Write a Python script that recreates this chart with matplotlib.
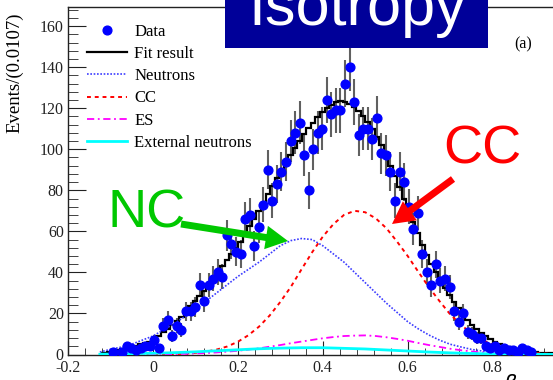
import numpy as np
import matplotlib
matplotlib.use("Agg")
import matplotlib.pyplot as plt
from matplotlib.patches import Rectangle, FancyArrowPatch, ArrowStyle
from matplotlib.lines import Line2D

# histogram binning (100 bins of 0.0107 starting at -0.12)
bin_lo = -0.12
bin_w = 0.0107

# data counts per bin
data_counts = [0, 0, 1, 0, 1, 4, 3, 2, 3, 4,
               4, 7, 3, 14, 17, 9, 14, 12, 21, 21,
               23, 34, 26, 34, 37, 40, 38, 58, 54, 50,
               49, 66, 68, 53, 62, 73, 90, 75, 83, 89,
               94, 104, 108, 113, 97, 80, 100, 108, 110, 124,
               117, 119, 119, 132, 140, 123, 107, 110, 110, 105,
               115, 98, 97, 89, 75, 89, 84, 72, 61, 69,
               49, 40, 34, 44, 36, 37, 33, 21, 16, 20,
               11, 10, 8, 8, 4, 3, 4, 2, 3, 2,
               2, 1, 3, 2, 1, 0, 0, 0, 0, 0]

# total fit per bin
fit_counts = [0.8, 1.2, 1.7, 2.1, 2.5, 3.0, 3.5, 4.3, 5.0, 5.8,
              6.3, 7.5, 9.2, 11, 12.5, 14.5, 16.3, 18.5, 20.8, 23.5,
              26, 28.5, 31, 34, 37, 40, 43, 46, 49, 52,
              55, 59, 62.5, 66, 70, 74, 78, 82, 86, 89.5,
              93, 97, 100.5, 104, 107.5, 110.5, 113, 115.5, 118, 120,
              121.5, 123, 123.5, 123, 122, 120.5, 118.5, 116, 113.5, 110,
              106, 102, 97, 92, 87, 81.5, 76, 70, 64.5, 59,
              53.5, 48.5, 44, 40, 36, 32.5, 29, 25.5, 22.5, 19.5,
              17, 14.5, 12.5, 10.5, 9, 7.5, 6.3, 5.2, 4.3, 3.5,
              2.9, 2.4, 1.9, 1.5, 1.2, 1.0, 0.8, 0.6, 0.5, 0.4]

# fit components sampled along beta14
comp_x = [-0.125, -0.1, -0.075, -0.05, -0.025, 0, 0.025, 0.05, 0.075, 0.1,
          0.125, 0.15, 0.175, 0.2, 0.225, 0.25, 0.275, 0.3, 0.325, 0.35,
          0.375, 0.4, 0.425, 0.45, 0.475, 0.5, 0.525, 0.55, 0.575, 0.6,
          0.625, 0.65, 0.675, 0.7, 0.725, 0.75, 0.775, 0.8, 0.825, 0.85,
          0.875, 0.9, 0.925, 0.95]
neutrons = [1.2, 2.5, 3.6, 5, 7, 9, 12, 15, 18.5, 22,
            26, 30, 34, 38, 41.5, 45, 49, 53, 55.5, 56.5,
            56, 53, 49, 45, 40, 35, 30, 25, 20.5, 16,
            12.5, 9.5, 7, 5, 3.7, 2.5, 1.7, 1, 0.7, 0.4,
            0.25, 0.1, 0.05, 0]
cc = [0, 0, 0, 0, 0, 0.05, 0.1, 0.2, 0.4, 0.8,
      1.4, 2.4, 3.9, 6.2, 9.4, 13.6, 19, 25.6, 33, 41.5,
      49.8, 57.4, 63.5, 68, 70, 69.3, 66.3, 61.5, 55, 48,
      40.3, 32.8, 26, 19.6, 14.6, 10.3, 7.2, 4.8, 3.1, 1.9,
      1.2, 0.7, 0.4, 0.2]
es = [0, 0, 0.05, 0.05, 0.1, 0.1, 0.15, 0.2, 0.35, 0.5,
      0.7, 1.0, 1.4, 1.8, 2.4, 3.0, 3.8, 4.6, 5.5, 6.3,
      7.1, 7.9, 8.5, 9.0, 9.2, 9.3, 9.0, 8.4, 7.6, 6.7,
      5.6, 4.6, 3.7, 2.8, 2.1, 1.5, 1.0, 0.7, 0.45, 0.3,
      0.2, 0.1, 0.05, 0]
ext_n = [0.15, 0.2, 0.3, 0.4, 0.5, 0.6, 0.75, 0.9, 1.1, 1.3,
         1.55, 1.8, 2.05, 2.3, 2.55, 2.8, 2.95, 3.1, 3.2, 3.3,
         3.3, 3.3, 3.15, 3.0, 2.85, 2.7, 2.45, 2.2, 1.95, 1.7,
         1.45, 1.2, 1.0, 0.8, 0.65, 0.5, 0.4, 0.3, 0.25, 0.2,
         0.15, 0.1, 0.05, 0.05]

W, H = 553, 380
serif = "Liberation Serif"
sans = "Liberation Sans"

fig = plt.figure(figsize=(W / 100, H / 100), dpi=100)
ax = fig.add_axes([68 / W, 1 - 354.5 / H, 509.5 / W, 347.5 / H])

counts = np.array(data_counts, dtype=float)
edges = bin_lo + bin_w * np.arange(len(counts) + 1)
centers = 0.5 * (edges[:-1] + edges[1:])
mask = counts > 0

ax.errorbar(centers[mask], counts[mask], yerr=np.sqrt(counts[mask]), fmt="none",
            ecolor="#606060", elinewidth=1.5, zorder=2)
ax.stairs(fit_counts, edges, color="black", lw=1.6, zorder=3)
ax.plot(comp_x, neutrons, color="#3c3cff", ls=(0, (1, 1)), lw=1.2, zorder=3)
ax.plot(comp_x, cc, color="red", ls=(0, (2, 2)), lw=1.4, zorder=3)
ax.plot(comp_x, es, color="magenta", ls=(0, (4, 2, 1, 2)), lw=1.3, zorder=3)
ax.plot(comp_x, ext_n, color="cyan", ls="-", lw=2, zorder=3)
ax.plot(centers[mask], counts[mask], "o", color="blue", ms=6.3, zorder=4)

ax.set_xlim(-0.2, 1.0)
ax.set_ylim(0, 169.3)
ax.set_xticks([-0.2, 0, 0.2, 0.4, 0.6, 0.8])
ax.set_xticklabels(["-0.2", "0", "0.2", "0.4", "0.6", "0.8"])
ax.set_yticks(range(0, 161, 20))
ax.xaxis.set_minor_locator(matplotlib.ticker.MultipleLocator(0.04))
ax.yaxis.set_minor_locator(matplotlib.ticker.MultipleLocator(4))
ax.tick_params(axis="both", which="both", direction="in", top=False, right=False,
               labelsize=11.5, colors="#222222")
ax.tick_params(axis="y", which="major", length=13, pad=3)
ax.tick_params(axis="y", which="minor", length=7)
ax.tick_params(axis="x", which="major", length=10, pad=4)
ax.tick_params(axis="x", which="minor", length=5)
for lab in ax.get_xticklabels() + ax.get_yticklabels():
    lab.set_fontfamily(serif)
for s in ax.spines.values():
    s.set_color("#222222")
    s.set_linewidth(1)

ax.set_ylabel("Events/(0.0107)", fontsize=13.5, family=serif, loc="top")
ax.yaxis.set_label_coords(-0.088, 0.985)

handles = [
    Line2D([], [], marker="o", color="blue", ls="none", ms=6.3),
    Line2D([], [], color="black", lw=1.6),
    Line2D([], [], color="#3c3cff", ls=(0, (1, 1)), lw=1.2),
    Line2D([], [], color="red", ls=(0, (2, 2)), lw=1.4),
    Line2D([], [], color="magenta", ls=(0, (4, 2, 1, 2)), lw=1.3),
    Line2D([], [], color="cyan", lw=2),
]
labels = ["Data", "Fit result", "Neutrons", "CC", "ES", "External neutrons"]
fig.legend(handles, labels, loc="upper left", bbox_to_anchor=(87 / W, 1 - 23.5 / H),
           frameon=False, prop={"family": serif, "size": 12}, handlelength=2.4,
           handletextpad=0.45, labelspacing=0.38, borderpad=0, borderaxespad=0,
           numpoints=1)

fig.text(523 / W, 1 - 44 / H, "(a)", family=serif, fontsize=11.5, ha="center", va="center")
fig.text(520 / W, 1 - 372 / H, r"$\beta_{14}$", fontsize=15, ha="center", va="top")

# title box
fig.add_artist(Rectangle((225 / W, 1 - 48 / H), 263 / W, 60 / H, transform=fig.transFigure,
                         facecolor="#000099", edgecolor="none", zorder=5))
fig.text(357 / W, 1 - 25 / H, "Isotropy", family=sans, fontsize=44, color="white",
         ha="center", va="baseline", zorder=6)

# annotations
fig.text(107 / W, 1 - 227 / H, "NC", family=sans, fontsize=39, color="#00c800",
         ha="left", va="baseline", zorder=6)
fig.text(443 / W, 1 - 163 / H, "CC", family=sans, fontsize=39, color="red",
         ha="left", va="baseline", zorder=6)


def arrow(p0, p1, color):
    a = FancyArrowPatch((p0[0] / W, 1 - p0[1] / H), (p1[0] / W, 1 - p1[1] / H),
                        transform=fig.transFigure,
                        arrowstyle=ArrowStyle.Simple(head_length=1.6, head_width=1.7, tail_width=0.5),
                        mutation_scale=10, color=color, lw=0, zorder=6,
                        shrinkA=0, shrinkB=0)
    fig.add_artist(a)


arrow((181, 224), (288, 241), "#00c800")
arrow((453, 179), (392, 224), "red")

fig.savefig("out.png", dpi=100)
